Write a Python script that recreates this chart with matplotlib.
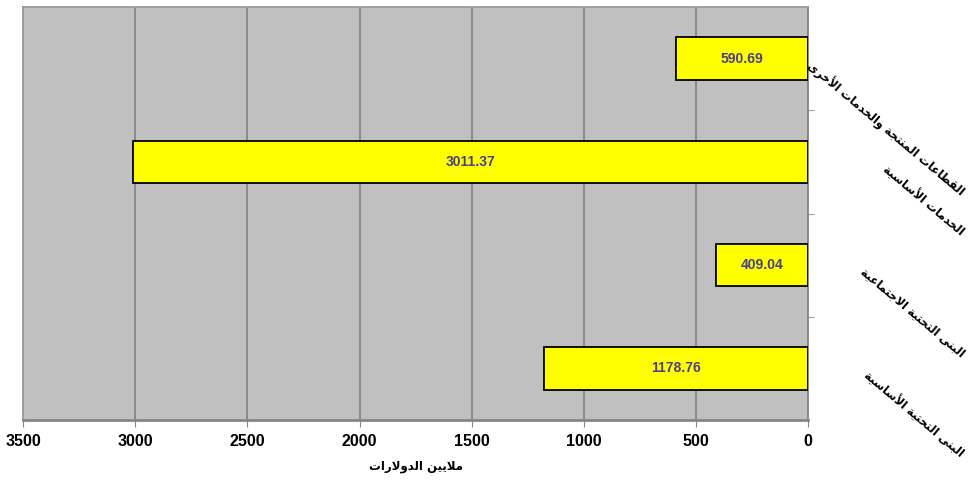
"""
Horizontal bar chart of spending by sector (millions of dollars)
"""

import matplotlib.pyplot as plt

categories = ['القطاعات المنتجة والخدمات الأخرى', 'الخدمات الأساسية',
              'البنى التحتية الاجتماعية', 'البنى التحتية الأساسية']
values = [590.69, 3011.37, 409.04, 1178.76]
x_ticks = [0, 500, 1000, 1500, 2000, 2500, 3000, 3500]
x_label = 'ملايين الدولارات'

# Arabic presentation forms: (isolated, final, initial, medial)
FORMS = {
    'ا': (0xFE8D, 0xFE8E, None, None), 'أ': (0xFE83, 0xFE84, None, None),
    'ب': (0xFE8F, 0xFE90, 0xFE91, 0xFE92), 'ة': (0xFE93, 0xFE94, None, None),
    'ت': (0xFE95, 0xFE96, 0xFE97, 0xFE98), 'ج': (0xFE9D, 0xFE9E, 0xFE9F, 0xFEA0),
    'ح': (0xFEA1, 0xFEA2, 0xFEA3, 0xFEA4), 'خ': (0xFEA5, 0xFEA6, 0xFEA7, 0xFEA8),
    'د': (0xFEA9, 0xFEAA, None, None), 'ر': (0xFEAD, 0xFEAE, None, None),
    'س': (0xFEB1, 0xFEB2, 0xFEB3, 0xFEB4), 'ط': (0xFEC1, 0xFEC2, 0xFEC3, 0xFEC4),
    'ع': (0xFEC9, 0xFECA, 0xFECB, 0xFECC), 'ق': (0xFED5, 0xFED6, 0xFED7, 0xFED8),
    'ل': (0xFEDD, 0xFEDE, 0xFEDF, 0xFEE0), 'م': (0xFEE1, 0xFEE2, 0xFEE3, 0xFEE4),
    'ن': (0xFEE5, 0xFEE6, 0xFEE7, 0xFEE8), 'و': (0xFEED, 0xFEEE, None, None),
    'ى': (0xFEEF, 0xFEF0, None, None), 'ي': (0xFEF1, 0xFEF2, 0xFEF3, 0xFEF4),
}
LAM_ALEF = {'ا': (0xFEFB, 0xFEFC), 'أ': (0xFEF7, 0xFEF8)}


def is_dual(c):
    return c in FORMS and FORMS[c][2] is not None


def shape_arabic(text):
    """
    Join Arabic letters and put them in visual (left to right) order
    """
    res = []
    i = 0
    n = len(text)
    while i < n:
        c = text[i]
        if c not in FORMS:
            res.append(c)
            i += 1
            continue
        joins_prev = i > 0 and is_dual(text[i - 1])
        # lam + alef ligature
        if c == 'ل' and i + 1 < n and text[i + 1] in LAM_ALEF:
            iso, fin = LAM_ALEF[text[i + 1]]
            res.append(chr(fin if joins_prev else iso))
            i += 2
            continue
        joins_next = is_dual(c) and i + 1 < n and text[i + 1] in FORMS
        iso, fin, ini, med = FORMS[c]
        if joins_prev and joins_next:
            res.append(chr(med))
        elif joins_prev:
            res.append(chr(fin))
        elif joins_next:
            res.append(chr(ini))
        else:
            res.append(chr(iso))
        i += 1
    return ''.join(reversed(res))


fig = plt.figure(figsize=(9.79, 4.96), dpi=100)
ax = fig.add_axes([0.0235, 0.1532, 0.802, 0.8327])
ax.set_facecolor('#c0c0c0')

ypos = list(range(len(categories)))
bars = ax.barh(ypos, values, height=0.41, color='#ffff00', edgecolor='black',
               linewidth=1.3, zorder=3)

for y, v in zip(ypos, values):
    ax.text(v / 2, y, '{:.2f}'.format(v), ha='center', va='center', color='#4a3f8f',
            fontsize=10, fontweight='bold', family='Liberation Sans', zorder=4)

ax.set_xlim(3500, 0)
ax.set_ylim(len(categories) - 0.5, -0.5)
ax.set_xticks(x_ticks)
ax.set_xticklabels([str(t) for t in x_ticks], fontsize=11.5, fontweight='bold',
                   family='Liberation Sans')
ax.xaxis.grid(True, color='#858585', linewidth=1.3, zorder=0)
ax.set_axisbelow(True)
ax.tick_params(axis='x', length=5, color='#858585', pad=5)

# category separators on the right axis
ax.yaxis.tick_right()
ax.set_yticks([0.5, 1.5, 2.5])
ax.set_yticklabels([])
ax.tick_params(axis='y', length=4, color='#a0a0a0')

for side in ['left', 'top']:
    ax.spines[side].set_color('#9a9a9a')
    ax.spines[side].set_linewidth(1.3)
ax.spines['bottom'].set_color('#858585')
ax.spines['bottom'].set_linewidth(2)
ax.spines['right'].set_color('#858585')
ax.spines['right'].set_linewidth(1.3)

for y, cat in zip(ypos, categories):
    ax.text(1.2025, y, shape_arabic(cat), transform=ax.get_yaxis_transform(),
            rotation=-40, ha='right', va='top', fontsize=8.3, fontweight='bold',
            family='DejaVu Sans')

ax.set_xlabel(shape_arabic(x_label), fontsize=8.5, fontweight='bold',
              family='DejaVu Sans', labelpad=8)

fig.savefig('out.png', dpi=100)
